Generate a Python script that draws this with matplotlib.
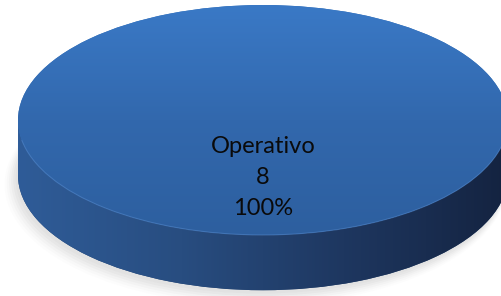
import matplotlib.pyplot as plt
import numpy as np
from matplotlib.patches import Rectangle, Arc, Ellipse
from matplotlib.colors import LinearSegmentedColormap

# data
categories = ["Operativo"]
values = [8]

depth = 0.48  # thickness of the 3D disc, in radius units (vertical)

fig = plt.figure(figsize=(5.01, 2.96), dpi=100)
ax = fig.add_axes([0, 0, 1, 1])

total = sum(values)

def fmt(p):
    return f"{categories[0]}\n{round(p * total / 100)}\n{p:.0f}%"

# soft shadow under the disc
for i, a in enumerate(np.linspace(0.06, 0.02, 6)):
    ax.add_patch(Ellipse((-0.01 - 0.004 * i, -depth - 0.03 - 0.01 * i), 2.0 + 0.01 * i, 2.0 + 0.02 * i,
                         facecolor="#808080", edgecolor="none", alpha=a, zorder=0))

# side of the disc (bottom copy of the pie + band between)
side_w, _ = ax.pie(values, center=(0, -depth), startangle=90, radius=1,
                   colors=["#24446f"], wedgeprops=dict(linewidth=0), frame=True)
band = Rectangle((-1, -depth), 2, depth, facecolor="#24446f", edgecolor="none")
ax.add_patch(band)

side_cmap = LinearSegmentedColormap.from_list("side", ["#2f5c98", "#284d80", "#1e3760", "#142340"])
grad_x = np.linspace(0, 1, 256).reshape(1, -1)
for clip in (side_w[0], band):
    im = ax.imshow(grad_x, cmap=side_cmap, extent=(-1, 1, -depth - 1.05, 0.05),
                   aspect="auto", interpolation="bilinear", zorder=2)
    im.set_clip_path(clip)

# top face
top_w, texts, autotexts = ax.pie(values, startangle=90, radius=1, colors=["#3470b8"],
                                 autopct=fmt, pctdistance=0.5,
                                 wedgeprops=dict(linewidth=0, zorder=3),
                                 textprops=dict(fontsize=17, color="#0a0a0a", family="Lato",
                                                linespacing=1.6, zorder=6),
                                 frame=True)
top_cmap = LinearSegmentedColormap.from_list("top", ["#2d5f9f", "#3268ad", "#3a79c6"])
grad_y = np.linspace(0, 1, 256).reshape(-1, 1)
im = ax.imshow(grad_y, cmap=top_cmap, origin="lower", extent=(-1, 1, -1, 1),
               aspect="auto", interpolation="bilinear", zorder=4)
im.set_clip_path(top_w[0])

# light rim on the front edge of the top face
ax.add_patch(Arc((0, 0), 2, 2, theta1=190, theta2=350, color="#5b8fd2",
                 linewidth=0.8, alpha=0.45, zorder=5))

for t in texts:
    t.set_visible(False)

ax.set_aspect("auto")
ax.set_xlim(-263 / 245, (501 - 263) / 245)
ax.set_ylim(-176 / 115, 120 / 115)
ax.axis("off")

fig.savefig("out.png", dpi=100)
